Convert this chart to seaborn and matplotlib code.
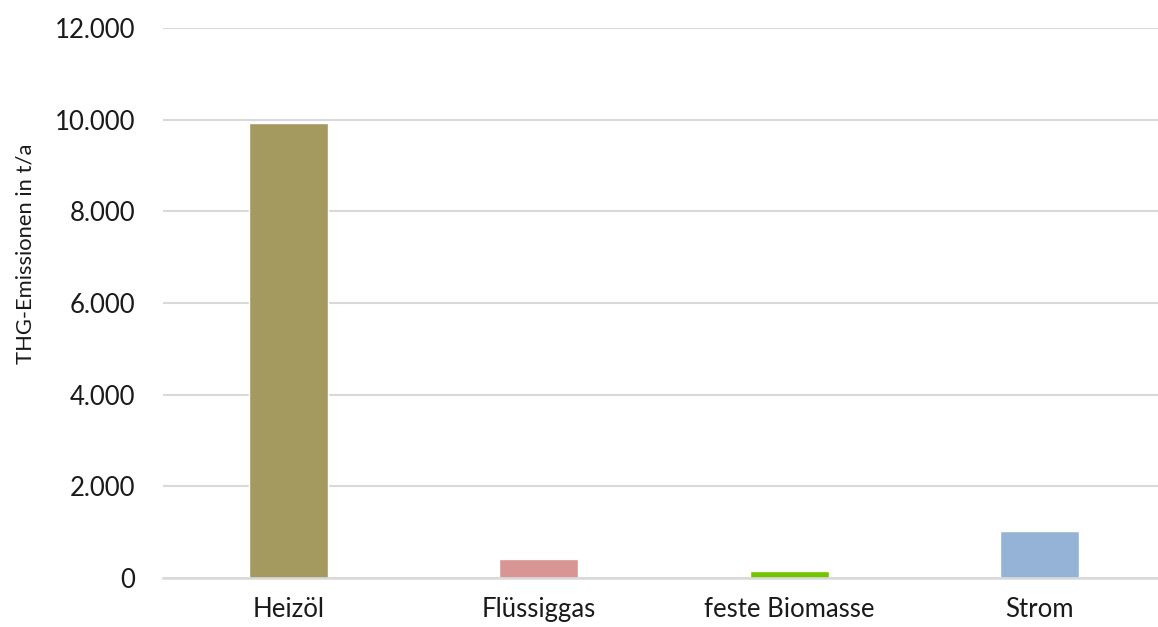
import matplotlib
matplotlib.use("Agg")
import matplotlib.pyplot as plt
import matplotlib.ticker as mticker
import seaborn as sns
import pandas as pd

# Werte (t/a)
categories = ["Heizöl", "Flüssiggas", "feste Biomasse", "Strom"]
emissions = [9930, 415, 155, 1030]
colors = ["#a49a60", "#d99594", "#72c600", "#95b3d7"]

df = pd.DataFrame({"Energieträger": categories, "THG": emissions})

sns.set_theme(style="white")
plt.rcParams["font.family"] = ["Lato", "DejaVu Sans"]

fig = plt.figure(figsize=(11.58, 6.27), dpi=100)
ax = fig.add_axes([163 / 1158, 49 / 627, 995 / 1158, 550 / 627])

sns.barplot(data=df, x="Energieträger", y="THG", hue="Energieträger",
            palette=colors, width=0.315, legend=False, ax=ax, saturation=1)

ax.set_ylim(0, 12000)
ax.set_xlim(-0.5, 3.472)
ax.set_yticks(range(0, 12001, 2000))
ax.yaxis.set_major_formatter(
    mticker.FuncFormatter(lambda v, p: f"{int(v):,}".replace(",", ".")))

ax.grid(axis="y", color="#d9d9d9", linewidth=1.5)
ax.set_axisbelow(True)
for s in ["top", "right", "left"]:
    ax.spines[s].set_visible(False)
ax.spines["bottom"].set_color("#d9d9d9")
ax.spines["bottom"].set_linewidth(1.8)

ax.tick_params(axis="y", length=0, pad=20, labelsize=18.5, labelcolor="#1a1a1a")
# etwas weniger Abstand, damit die Unterlängen noch ins Bild passen
ax.tick_params(axis="x", length=0, pad=14, labelsize=18.5, labelcolor="#1a1a1a")
ax.set_xlabel("")
ax.set_ylabel("THG-Emissionen in t/a", fontsize=15.8, color="#1a1a1a")
ax.yaxis.set_label_coords(-0.1286, 0.589)

fig.savefig("out.png", dpi=100)
